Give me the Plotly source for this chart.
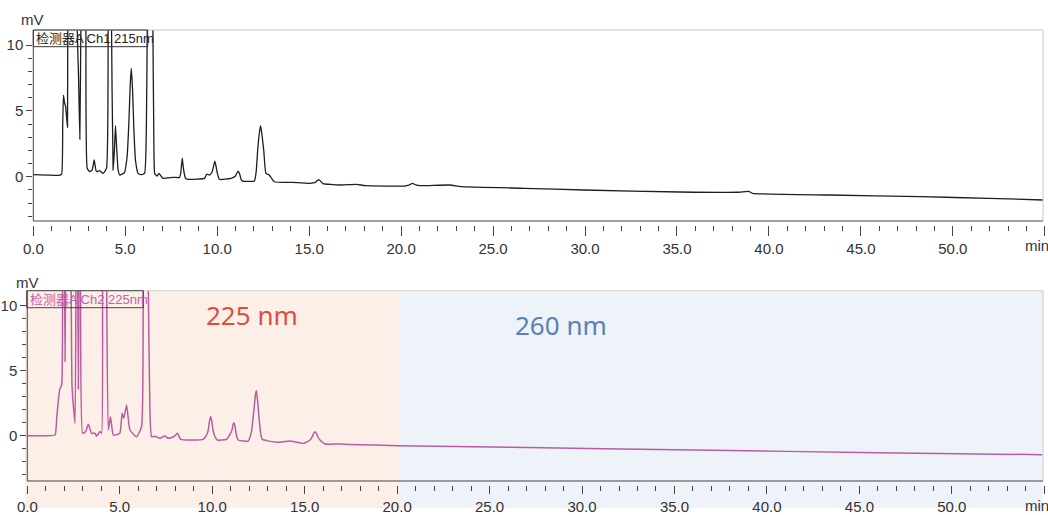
import plotly.graph_objects as go

# ---------------- data ----------------
top_time = [0.0, 0.8, 1.4, 1.54, 1.6, 1.64, 1.7, 1.76, 1.86, 1.92, 2.15, 2.38, 2.46, 2.53,
            2.59, 2.72, 2.86, 2.93, 3.07, 3.2, 3.31, 3.43, 3.62, 3.79, 3.98, 4.07, 4.16, 4.25,
            4.34, 4.41, 4.47, 4.54, 4.61, 4.7, 4.95, 5.1, 5.2, 5.27, 5.33, 5.4, 5.47, 5.56,
            5.7, 5.85, 6.05, 6.15, 6.2, 6.35, 6.5, 6.56, 6.6, 6.72, 6.83, 7.05, 7.59, 7.95,
            8.02, 8.06, 8.1, 8.14, 8.2, 8.28, 8.49, 9.31, 9.43, 9.6, 9.72, 9.8, 9.87, 9.93,
            10.0, 10.12, 10.75, 10.99, 11.08, 11.15, 11.22, 11.3, 11.38, 12.02, 12.12, 12.2,
            12.28, 12.36, 12.44, 12.53, 12.65, 12.83, 13.1, 14.09, 15.0, 15.35, 15.45, 15.53,
            15.62, 15.75, 16.62, 17.57, 18.06, 20.16, 20.45, 20.61, 20.8, 21.03, 22.64, 23.26,
            26.72, 29.94, 35.14, 38.36, 38.9, 39.1, 43.3, 48.26, 51.96, 54.9]
top_mv = [0.15, 0.12, 0.1, 0.2, 4.0, 6.2, 5.6, 5.3, 3.75, 40, 30, 11.5, 7.6, 2.84,
          12, 40, 12, 0.64, 0.38, 0.5, 1.27, 0.38, 0.46, 0.25, 0.64, 12, 40, 12,
          0.51, 2.0, 3.87, 2.0, 0.51, 0.13, 0.3, 1.5, 4.2, 7.0, 8.23, 6.5, 3.5, 1.2,
          0.25, 0.15, 0.25, 4.0, 12, 40, 12, 2.0, 0.25, 0.05, 0.25, -0.12, -0.05, -0.05,
          0.3, 0.9, 1.4, 0.9, 0.3, -0.13, -0.2, -0.13, 0.2, 0.13, 0.35, 0.8, 1.19, 0.85,
          0.3, -0.2, -0.13, 0.05, 0.3, 0.43, 0.2, -0.2, -0.33, -0.33, 0.4, 2.0,
          3.2, 3.87, 3.1, 2.0, 0.25, 0.13, -0.38, -0.43, -0.5, -0.42, -0.27, -0.22,
          -0.35, -0.52, -0.63, -0.58, -0.68, -0.71, -0.62, -0.5, -0.62, -0.68, -0.63, -0.76,
          -0.88, -1.01, -1.16, -1.18, -1.12, -1.26, -1.39, -1.52, -1.64, -1.77]

bot_time = [0.0, 1.0, 1.5, 1.59, 1.68, 1.77, 1.86, 1.91, 1.96, 2.02, 2.04, 2.07, 2.2, 2.37,
            2.42, 2.58, 2.63, 2.68, 2.73, 2.76, 2.79, 2.84, 2.88, 2.99, 3.15, 3.3, 3.48,
            3.65, 3.75, 3.93, 4.02, 4.07, 4.18, 4.29, 4.38, 4.5, 4.65, 5.0, 5.13, 5.22,
            5.37, 5.55, 5.91, 6.18, 6.27, 6.4, 6.54, 6.63, 6.72, 6.9, 7.17, 7.44, 7.62,
            7.9, 8.13, 8.29, 9.51, 9.69, 9.78, 9.85, 9.92, 9.98, 10.05, 10.13, 10.27, 10.77,
            10.99, 11.07, 11.13, 11.17, 11.22, 11.3, 11.4, 11.94, 12.12, 12.22, 12.28, 12.35,
            12.39, 12.46, 12.55, 12.63, 12.71, 13.48, 14.2, 14.93, 15.29, 15.42, 15.5, 15.56,
            15.63, 15.72, 15.83, 16.1, 16.91, 17.43, 20.05, 26.2, 36.09, 45.96, 54.9]
bot_mv = [0.0, 0.0, 0.05, 1.34, 2.75, 3.64, 3.9, 12, 40, 12, 5.7, 12, 40, 12,
          3.77, 0.95, 12, 40, 12, 3.6, 12, 40, 12, 0.18, 0.3, 0.88, 0.18,
          0.2, -0.03, 0.33, 0.18, 12, 40, 12, 0.44, 1.46, 0.05, 0.18, 1.72, 1.34,
          2.36, 0.44, -0.08, 0.69, 12, 40, 12, 2.0, -0.08, -0.05, -0.2, -0.02, -0.2,
          -0.1, 0.18, -0.28, -0.28, 0.05, 0.4, 1.1, 1.46, 1.1, 0.4, 0.0, -0.33, -0.28,
          0.18, 0.45, 0.85, 1.0, 0.8, 0.1, -0.33, -0.41, 0.3, 1.5, 2.3, 3.3,
          3.46, 2.6, 1.1, 0.1, -0.28, -0.51, -0.41, -0.59, -0.33, -0.05, 0.22, 0.31,
          0.2, -0.1, -0.33, -0.64, -0.64, -0.67, -0.77, -0.89, -1.1, -1.31, -1.46]

x_major = [0, 5, 10, 15, 20, 25, 30, 35, 40, 45, 50, 55]
x_labels = ["0.0", "5.0", "10.0", "15.0", "20.0", "25.0", "30.0", "35.0", "40.0", "45.0", "50.0", ""]
y_major = [0, 5, 10]
y_labels = ["0", "5", "10"]
top_title = "检测器A Ch1 215nm"
bot_title = "检测器A Ch2 225nm"
band_labels = ["225 nm", "260 nm"]

# ---------------- layout helpers ----------------
W, H = 1048, 515
def fx(p):
    return p / W
def fy(p):
    return 1 - p / H

NARROW = "Liberation Sans Narrow, Arial Narrow, Liberation Sans, Noto Sans CJK SC, sans-serif"
tickfont = dict(family=NARROW, size=15, color="#333333")
x_minor = [v for v in range(1, 55) if v % 5 != 0]
y_minor = [-3, -2, -1, 1, 2, 3, 4, 6, 7, 8, 9]

fig = go.Figure()
fig.add_trace(go.Scatter(x=top_time, y=top_mv, mode="lines",
                         line=dict(color="#1e1e1e", width=1.3, shape="spline", smoothing=0.4),
                         xaxis="x", yaxis="y", hoverinfo="skip", showlegend=False))
fig.add_trace(go.Scatter(x=bot_time, y=bot_mv, mode="lines",
                         line=dict(color="#b95ca3", width=1.5, shape="spline", smoothing=0.4),
                         xaxis="x2", yaxis="y2", hoverinfo="skip", showlegend=False))

def xax(domain, anchor, tlen):
    return dict(domain=domain, range=[0, 55], anchor=anchor, tickmode="array",
                tickvals=x_major, ticktext=x_labels, ticks="outside", ticklen=tlen,
                tickcolor="#444444", tickwidth=1, showline=False, showgrid=False,
                zeroline=False, tickfont=tickfont, automargin=False,
                minor=dict(tickmode="array", tickvals=x_minor, ticks="outside",
                           ticklen=5, tickcolor="#444444", showgrid=False))

def yax(domain, rng, anchor):
    return dict(domain=domain, range=rng, anchor=anchor, tickmode="array",
                tickvals=y_major, ticktext=y_labels, ticks="outside", ticklen=6,
                tickcolor="#444444", tickwidth=1, showline=False, showgrid=False,
                zeroline=False, tickfont=tickfont, automargin=False,
                minor=dict(tickmode="array", tickvals=y_minor, ticks="outside",
                           ticklen=4, tickcolor="#444444", showgrid=False))

top_zero, top_scale = 176.7, 13.17
bot_zero, bot_scale = 435.7, 13.0

shapes = []
# background bands (bottom panel)
shapes.append(dict(type="rect", xref="paper", yref="paper", x0=fx(25), x1=fx(400),
                   y0=fy(508), y1=fy(290.7), fillcolor="#fcefe7", line=dict(width=0), layer="below"))
shapes.append(dict(type="rect", xref="paper", yref="paper", x0=fx(400), x1=fx(1043),
                   y0=fy(508), y1=fy(290.7), fillcolor="#eef3fa", line=dict(width=0), layer="below"))

def line(x0, y0, x1, y1, color, width=1):
    shapes.append(dict(type="line", xref="paper", yref="paper", x0=fx(x0), y0=fy(y0),
                       x1=fx(x1), y1=fy(y1), line=dict(color=color, width=width)))

# top panel frame
line(33.3, 30, 1043, 30, "#c8c8c8")
line(1043, 30, 1043, 221, "#c8c8c8")
line(33.3, 221, 1043, 221, "#444444")
line(33.3, 30, 33.3, 221, "#444444")
# bottom panel frame
line(27.3, 290.7, 1043, 290.7, "#d9cfc9")
line(1043, 290.7, 1043, 481, "#c8c8c8")
line(27.3, 481, 1043, 481, "#444444")
line(27.3, 290.7, 27.3, 481, "#444444")
# title boxes
shapes.append(dict(type="rect", xref="paper", yref="paper", x0=fx(33.3), x1=fx(147.7),
                   y0=fy(46.7), y1=fy(30), line=dict(color="#333333", width=1)))
shapes.append(dict(type="rect", xref="paper", yref="paper", x0=fx(26.7), x1=fx(143.3),
                   y0=fy(307.7), y1=fy(290.7), line=dict(color="#444444", width=1)))

def note(text, x, y, size, color, family=NARROW, xanchor="center"):
    return dict(text=text, x=fx(x), y=fy(y), xref="paper", yref="paper", showarrow=False,
                xanchor=xanchor, yanchor="middle",
                font=dict(family=family, size=size, color=color))

SANS = "Noto Sans, Open Sans, sans-serif"
annotations = [
    note("mV", 32.5, 20, 15, "#333333"),
    note("mV", 27.5, 282, 15, "#333333"),
    note("min", 1037, 245, 15, "#333333"),
    note("min", 1037, 505, 15, "#333333"),
    note(top_title, 34, 38.5, 13, "#222222", xanchor="left"),
    note(bot_title, 27.5, 299, 13, "#c062ad", xanchor="left"),
    note(band_labels[0], 252, 315, 26, "#d9503f", family=SANS),
    note(band_labels[1], 561, 325, 26, "#5b80b8", family=SANS),
]

fig.update_layout(
    width=W, height=H, margin=dict(l=0, r=0, t=0, b=0, autoexpand=False),
    paper_bgcolor="white", plot_bgcolor="rgba(0,0,0,0)",
    xaxis=xax([fx(33.3), fx(1044.8)], "y", 10),
    yaxis=yax([fy(225), fy(30)], [(top_zero - 225) / top_scale, (top_zero - 30) / top_scale], "x"),
    xaxis2=xax([fx(27.3), fx(1044.3)], "y2", 8),
    yaxis2=yax([fy(485), fy(290.7)], [(bot_zero - 485) / bot_scale, (bot_zero - 290.7) / bot_scale], "x2"),
    shapes=shapes, annotations=annotations, showlegend=False,
)

# remove the default 8px page margin so the figure sits at the window's top-left corner
fig.write_html("out.html", config={"displayModeBar": False},
               post_script="document.body.style.margin='0px';")
